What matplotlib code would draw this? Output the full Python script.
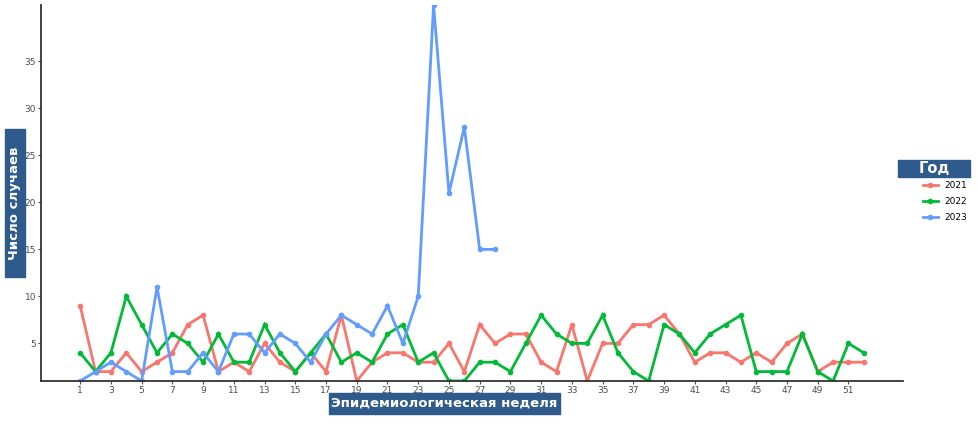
import numpy as np
import matplotlib
matplotlib.use('Agg')
from matplotlib import pyplot as plt
from matplotlib.patches import Rectangle

weeks = list(range(1, 53))

cases_2021 = [9, 2, 2, 4, 2, 3, 4, 7, 8, 2, 3, 2, 5, 3, 2, 4, 2, 8, 1, 3,
              4, 4, 3, 3, 5, 2, 7, 5, 6, 6, 3, 2, 7, 1, 5, 5, 7, 7, 8, 6,
              3, 4, 4, 3, 4, 3, 5, 6, 2, 3, 3, 3]
cases_2022 = [4, 2, 4, 10, 7, 4, 6, 5, 3, 6, 3, 3, 7, 4, 2, 4, 6, 3, 4, 3,
              6, 7, 3, 4, 1, 1, 3, 3, 2, 5, 8, 6, 5, 5, 8, 4, 2, 1, 7, 6,
              4, 6, 7, 8, 2, 2, 2, 6, 2, 1, 5, 4]
cases_2023 = [1, 2, 3, 2, 1, 11, 2, 2, 4, 2, 6, 6, 4, 6, 5, 3, 6, 8, 7, 6,
              9, 5, 10, 41, 21, 28, 15, 15]

series = [('2021', cases_2021, '#F8766D'),
          ('2022', cases_2022, '#00BA38'),
          ('2023', cases_2023, '#619CFF')]

box_color = '#2F5A8C'

W, H = 977, 426
fig = plt.figure(figsize=(W / 100, H / 100), dpi=100)
ax = fig.add_axes([41 / W, (H - 381) / H, (903 - 41) / W, (381 - 5) / H])

handles = []
for name, vals, col in series:
    h, = ax.plot(weeks[:len(vals)], vals, color=col, lw=2.0, marker='o',
                 ms=3.0, label=name, solid_joinstyle='miter')
    handles.append(h)

ax.set_xlim(-1.55, 54.55)
ax.set_ylim(1, 41)
ax.set_xticks(range(1, 53, 2))
ax.set_yticks([5, 10, 15, 20, 25, 30, 35])
ax.tick_params(labelsize=6.5, colors='#4D4D4D', length=2.5, width=0.8, pad=1)
for s in ['top', 'right']:
    ax.spines[s].set_visible(False)
for s in ['left', 'bottom']:
    ax.spines[s].set_color('#333333')
    ax.spines[s].set_linewidth(1.3)

# label boxes
def label_box(x0, y0, x1, y1, text, rot=0, size=10):
    fig.patches.append(Rectangle((x0 / W, 1 - y1 / H), (x1 - x0) / W, (y1 - y0) / H,
                                 transform=fig.transFigure, color=box_color, zorder=5))
    fig.text((x0 + x1) / 2 / W, 1 - (y0 + y1) / 2 / H, text, rotation=rot,
             color='white', fontsize=size, fontweight='bold',
             ha='center', va='center', zorder=6)

label_box(5, 129, 25, 277, 'Число случаев', rot=90, size=9.5)
label_box(329, 393, 560, 414, 'Эпидемиологическая неделя', size=9.5)
label_box(898, 160, 970, 177, 'Год', size=10.5)

leg = fig.legend(handles=handles, loc='upper left',
                 bbox_to_anchor=(915 / W, 1 - 173 / H), frameon=False,
                 fontsize=6.5, handlelength=1.6, labelspacing=0.75,
                 handletextpad=0.8)

fig.savefig('out.png', dpi=100)
